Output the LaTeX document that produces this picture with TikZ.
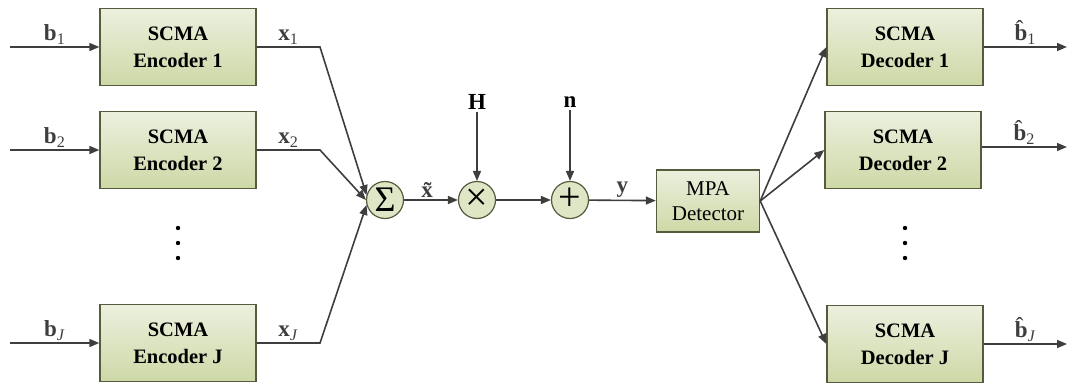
\documentclass[tikz,border=0pt]{standalone}
\usepackage{fontspec}
\setmainfont{Liberation Serif}
\usepackage{tikz}
\usetikzlibrary{arrows.meta, positioning, calc}
\definecolor{boxtop}{RGB}{236,240,222}
\definecolor{boxbot}{RGB}{205,216,166}
\definecolor{boxline}{RGB}{85,92,62}
\definecolor{opfill}{RGB}{222,230,198}
\definecolor{wire}{RGB}{62,62,62}
\newcommand{\vb}[2]{\textbf{#1}\textsubscript{#2}}
\newcommand{\hb}{\makebox[0pt][l]{\hspace{0.05em}\raisebox{0.18em}{ˆ}}\textbf{b}}

\begin{document}
\begin{tikzpicture}[x=1pt, y=-1pt,
  every node/.style={font=\fontsize{20.5}{27}\selectfont},
  block/.style={draw=boxline, line width=1.4pt, top color=boxtop, bottom color=boxbot,
    minimum width=156pt, minimum height=77pt, align=center, font=\fontsize{20.5}{27}\selectfont\bfseries},
  op/.style={circle, draw=boxline, line width=1.2pt, fill=opfill, minimum size=37pt, inner sep=0pt},
  lbl/.style={font=\fontsize{23}{23}\selectfont, inner sep=2pt},
  sig/.style={-{Triangle[length=10pt, width=8pt]}, line width=1.6pt, wire}]
  \useasboundingbox (0,0) rectangle (1068,383);

  % encoders
  \node[block] (enc1) at (178,47) {SCMA\\Encoder 1};
  \node[block] (enc2) at (178,150) {SCMA\\Encoder 2};
  \node[block] (encJ) at (178,343) {SCMA\\Encoder J};

  \coordinate (in1) at (10,47);
  \coordinate (in2) at (10,150);
  \coordinate (inJ) at (10,343);
  \draw[sig] (in1) -- (enc1) node[lbl, midway, above] {\vb{b}{1}};
  \draw[sig] (in2) -- (enc2) node[lbl, midway, above] {\vb{b}{2}};
  \draw[sig] (inJ) -- (encJ) node[lbl, midway, above] {\vb{b}{\textit{J}}};

  \foreach \y in {228,243,258} \fill[black] (178,\y) circle (2.2pt);

  % channel
  \node[op] (sum) at (385,200) {\fontsize{36}{36}\selectfont Σ};
  \node[op] (mul) at (477,200) {\fontsize{40}{40}\selectfont\raisebox{1pt}{×}};
  \node[op] (add) at (570,200) {\fontsize{40}{40}\selectfont\raisebox{1pt}{+}};

  \coordinate (bend1) at (320,47);
  \coordinate (bend2) at (320,150);
  \coordinate (bendJ) at (320,343);
  \draw[sig] (enc1.east) -- (bend1) node[lbl, midway, above] {\vb{x}{1}} -- (sum.165);
  \draw[sig] (enc2.east) -- (bend2) node[lbl, midway, above] {\vb{x}{2}} -- (sum.180);
  \draw[sig] (encJ.east) -- (bendJ) node[lbl, midway, above] {\vb{x}{\textit{J}}} -- (sum.195);

  \node[lbl] (hlab) at (477,102) {\textbf{H}};
  \node[lbl] (nlab) at (570,102) {\textbf{n}};
  \draw[sig] (hlab) -- (mul);
  \draw[sig] (nlab) -- (add);

  \node[block, font=\fontsize{21}{25}\selectfont, minimum width=103pt, minimum height=62pt, inner sep=2pt] (mpa) at (708,201) {MPA\\Detector};

  \draw[sig] (sum) -- (mul) node[lbl, midway, above] {\textbf{\~{x}}};
  \draw[sig] (mul) -- (add);
  \draw[sig] (add) -- (mpa) node[lbl, midway, above] {\textbf{y}};

  % decoders
  \node[block] (dec1) at (905,47) {SCMA\\Decoder 1};
  \node[block] (dec2) at (903,150) {SCMA\\Decoder 2};
  \node[block] (decJ) at (905,344) {SCMA\\Decoder J};

  \draw[sig] (mpa.east) -- (dec1.west);
  \draw[sig] (mpa.east) -- (dec2.west);
  \draw[sig] (mpa.east) -- (decJ.west);

  \foreach \y in {228,243,258} \fill[black] (905,\y) circle (2.2pt);

  \coordinate (out1) at (1067,47);
  \coordinate (out2) at (1067,147);
  \coordinate (outJ) at (1067,344);
  \draw[sig] (dec1.east) -- (out1) node[lbl, midway, above] {\hb\textsubscript{1}};
  \draw[sig] (dec2.east |- out2) -- (out2) node[lbl, midway, above] {\hb\textsubscript{2}};
  \draw[sig] (decJ.east) -- (outJ) node[lbl, midway, above] {\hb\textsubscript{\textit{J}}};
\end{tikzpicture}
\end{document}
